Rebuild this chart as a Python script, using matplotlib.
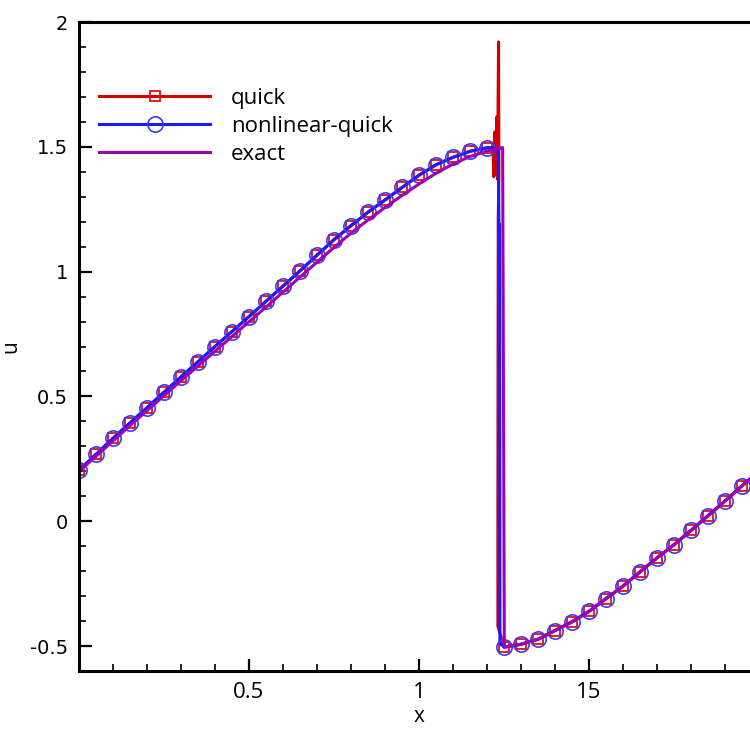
import matplotlib
matplotlib.use("Agg")
import matplotlib.pyplot as plt
from matplotlib.ticker import MultipleLocator

# sampled solution, smooth part left of the shock (x = 0 .. 1.2)
x_left = [0.00, 0.05, 0.10, 0.15, 0.20, 0.25, 0.30, 0.35, 0.40, 0.45, 0.50, 0.55,
          0.60, 0.65, 0.70, 0.75, 0.80, 0.85, 0.90, 0.95, 1.00, 1.05, 1.10, 1.15, 1.20]
u_scheme_left = [0.204, 0.268, 0.332, 0.394, 0.455, 0.517, 0.578, 0.639, 0.700, 0.760,
                 0.820, 0.881, 0.942, 1.003, 1.066, 1.128, 1.184, 1.238, 1.287, 1.337,
                 1.386, 1.428, 1.458, 1.482, 1.496]

# smooth part right of the shock (x = 1.25 .. 2)
x_right = [1.25, 1.30, 1.35, 1.40, 1.45, 1.50, 1.55, 1.60, 1.65, 1.70, 1.75, 1.80,
           1.85, 1.90, 1.95, 2.00]
u_scheme_right = [-0.504, -0.493, -0.473, -0.438, -0.403, -0.361, -0.310, -0.260,
                  -0.203, -0.147, -0.094, -0.037, 0.022, 0.081, 0.142, 0.200]

# points inside the shock for each scheme
quick_shock_x = [1.210, 1.218, 1.220, 1.223, 1.226, 1.229, 1.231, 1.234, 1.235,
                 1.233, 1.232, 1.232]
quick_shock_u = [1.497, 1.490, 1.380, 1.560, 1.390, 1.620, 1.370, 1.920, 1.400,
                 1.200, 0.090, -0.420]
nlq_shock_x = [1.225, 1.233, 1.235, 1.237, 1.238]
nlq_shock_u = [1.495, 1.487, 1.190, 1.190, -0.490]

# exact solution
exact_x = [0.00, 0.05, 0.10, 0.15, 0.20, 0.25, 0.30, 0.35, 0.40, 0.45, 0.50, 0.55,
           0.60, 0.65, 0.70, 0.75, 0.80, 0.85, 0.90, 0.95, 1.00, 1.05, 1.10, 1.15,
           1.20, 1.246, 1.251, 1.30, 1.35, 1.40, 1.45, 1.50, 1.55, 1.60, 1.65, 1.70,
           1.75, 1.80, 1.85, 1.90, 1.95, 2.00]
exact_u = [0.200, 0.260, 0.322, 0.383, 0.443, 0.503, 0.563, 0.622, 0.681, 0.740,
           0.799, 0.858, 0.918, 0.978, 1.038, 1.097, 1.154, 1.207, 1.257, 1.305,
           1.351, 1.394, 1.431, 1.461, 1.483, 1.497, -0.505, -0.493, -0.473, -0.438,
           -0.403, -0.361, -0.310, -0.260, -0.203, -0.147, -0.094, -0.037, 0.022,
           0.081, 0.142, 0.200]

x_ticks = [0.5, 1.0, 1.5]
x_tick_labels = ["0.5", "1", "15"]
y_ticks = [-0.5, 0.0, 0.5, 1.0, 1.5, 2.0]
y_tick_labels = ["-0.5", "0", "0.5", "1", "1.5", "2"]

quick_x = x_left + quick_shock_x + x_right
quick_u = u_scheme_left + quick_shock_u + u_scheme_right
nlq_x = x_left + nlq_shock_x + x_right
nlq_u = u_scheme_left + nlq_shock_u + u_scheme_right

def marker_index(n_shock):
    left = list(range(len(x_left)))
    start = len(x_left) + n_shock
    return left + list(range(start, start + len(x_right)))

W, H = 750, 730
fig = plt.figure(figsize=(W / 100, H / 100), dpi=100)
ax = fig.add_axes([79 / W, (H - 671) / H, 680 / W, (671 - 22) / H])

ax.plot(quick_x, quick_u, color="#d40000", lw=2.2, marker="s", ms=7.5,
        mfc="none", mec="#e01010", mew=1.3,
        markevery=marker_index(len(quick_shock_x)), label="quick")
ax.plot(nlq_x, nlq_u, color="#1a1aff", lw=2.2, marker="o", ms=11,
        mfc="none", mec="#3a3aff", mew=1.2,
        markevery=marker_index(len(nlq_shock_x)), label="nonlinear-quick")
ax.plot(exact_x, exact_u, color="#a000b4", lw=2.2, label="exact")

ax.set_xlim(0, 2)
ax.set_ylim(-0.6, 2)
ax.set_xticks(x_ticks)
ax.set_xticklabels(x_tick_labels, fontfamily="Open Sans", fontsize=16)
ax.set_yticks(y_ticks)
ax.set_yticklabels(y_tick_labels, fontfamily="DejaVu Sans", fontsize=14)
ax.xaxis.set_minor_locator(MultipleLocator(0.1))
ax.yaxis.set_minor_locator(MultipleLocator(0.1))
ax.tick_params(which="major", direction="in", length=9, width=1.6, pad=8)
ax.tick_params(which="minor", direction="in", length=5, width=1.2)
ax.tick_params(top=False, right=False, which="both")
for side in ["left", "bottom", "top"]:
    ax.spines[side].set_linewidth(2.2)
ax.spines["right"].set_visible(False)

ax.set_xlabel("x", fontfamily="Open Sans", fontsize=15, labelpad=2)
ax.set_ylabel("u", fontfamily="Open Sans", fontsize=15, labelpad=6)

ax.legend(loc="upper left", bbox_to_anchor=(20 / 680, 0.899), frameon=False,
          prop={"family": "Open Sans", "size": 16}, handlelength=5.0,
          handletextpad=0.95, labelspacing=0.32, borderpad=0, borderaxespad=0,
          numpoints=1)

fig.savefig("out.png", dpi=100)
